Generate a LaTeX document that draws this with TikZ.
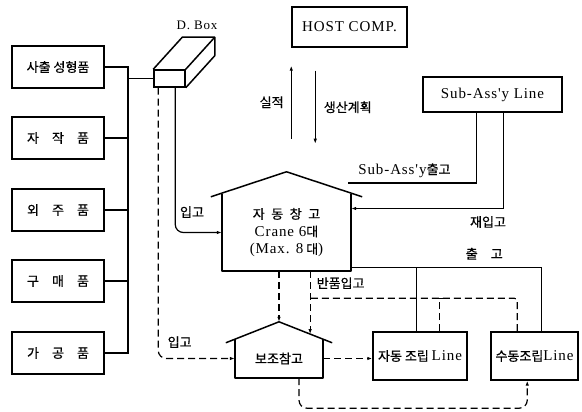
\documentclass[tikz,border=0pt]{standalone}
\usepackage{fontspec}
\setmainfont{Liberation Serif}
\newfontfamily\kr{Noto Sans CJK KR}[FakeBold=0.6]
\newfontfamily\lat{Liberation Serif}[LetterSpace=6]
\newcommand\eng[1]{{\lat\fontsize{15}{17.5}\selectfont #1}}
\usetikzlibrary{arrows.meta,calc}

\begin{document}
\begin{tikzpicture}[
  x=1pt,y=1pt,
  font=\kr\fontsize{13}{16}\selectfont,
  box/.style={draw, line width=1.5pt, align=center, inner sep=2pt},
  lbox/.style={box, minimum width=92pt, minimum height=42pt},
  house/.style={align=center, inner sep=2pt},
  wall/.style={line width=1.5pt, line join=round},
  lab/.style={inner sep=1pt},
  conn/.style={line width=1.2pt},
  arr/.style={conn, -{Latex[length=5pt,width=3.5pt]}},
  dline/.style={conn, dash pattern=on 7pt off 4pt},
  darr/.style={dline, -{Latex[length=5pt,width=3.5pt]}}
]
\useasboundingbox (0,0) rectangle (582,412);

\node[lbox] (sach) at (58,345) {사출 성형품};
\node[lbox] (jajak) at (58,274) {자\quad 작\quad 품};
\node[lbox] (oeju) at (58,202) {외\quad 주\quad 품};
\node[lbox] (gumae) at (58,131) {구\quad 매\quad 품};
\node[lbox] (gagong) at (58,59) {가\quad 공\quad 품};

\node[box, minimum width=31pt, minimum height=17pt, inner sep=0pt] (dbox) at (169.5,333.5) {};
\draw[wall] (dbox.north west) -- ++(29,32) -- ($(dbox.north east)+(29,32)$) -- ($(dbox.south east)+(29,32)$) -- (dbox.south east)
  (dbox.north east) -- ++(29,32);
\node[lab] (dlab) at (197,387) {\lat\fontsize{13}{15}\selectfont D. Box};

\node[box, minimum width=115pt, minimum height=40pt] (host) at (349.5,385) {\eng{HOST COMP.}};
\node[box, minimum width=139pt, minimum height=35pt] (subl) at (492.5,317.5) {\eng{Sub-Ass'y Line}};

\node[house, minimum width=129pt, minimum height=77pt, font=\kr\fontsize{13}{17.5}\selectfont] (awh) at (286.5,179.5)
  {자\enspace 동\enspace 창\enspace 고\\\eng{Crane 6}대\\\eng{(Max. 8} 대\eng{)}};
\draw[wall] (awh.north west) -- (awh.south west) -- (awh.south east) -- (awh.north east);
\draw[wall] ($(awh.north west)+(-11,-3)$) -- ($(awh.north)+(0,22)$) -- ($(awh.north east)+(11,-3)$);

\node[house, minimum width=88pt, minimum height=39pt] (bwh) at (279,53.5) {보조참고};
\draw[wall] (bwh.north west) -- (bwh.south west) -- (bwh.south east) -- (bwh.north east);
\draw[wall] ($(bwh.north west)+(-9,-4)$) -- ($(bwh.north)+(0,17)$) coordinate (bwhtop) -- ($(bwh.north east)+(9,-4)$) coordinate (bwhre);

\node[box, minimum width=94pt, minimum height=48pt] (aline) at (420,56) {자동 조립 \eng{Line}};
\node[box, minimum width=87pt, minimum height=48pt] (mline) at (534.5,56) {수동조립\eng{Line}};

\coordinate (bus) at (128,0);
\draw[conn] (sach.east) -| (bus |- gagong.east) -- (gagong.east);
\foreach \n in {jajak,oeju,gumae} \draw[conn] (\n.east) -- (bus |- \n.east);
\draw[conn] (bus |- dbox.west) -- (dbox.west);

\draw[arr, rounded corners=8pt] ([xshift=22]dbox.south west) |- node[lab, pos=0.68, above=13pt] {입고} (awh.west);
\draw[darr, rounded corners=8pt] ([xshift=5]dbox.south west) |- node[lab, pos=0.64, above=9pt] {입고} (bwh.west);

\draw[arr] ([yshift=-91]host.south west) -- node[lab, left=6pt] {실적} ([yshift=-18]host.south west);
\draw[arr] ([xshift=24,yshift=-23]host.south west) -- node[lab, right=7pt] {생산계획} ([xshift=24,yshift=-96]host.south west);

\coordinate (sout) at (348,229);
\draw[conn] ([xshift=54]subl.south west) |- node[lab, pos=0.78, above=4pt] {\eng{Sub-Ass'y}출고} (sout);
\draw[arr] ([xshift=81]subl.south west) |- node[lab, pos=0.55, below=6pt] {재입고} ([yshift=24]awh.east);

\coordinate (out) at ([yshift=4]awh.south east);
\draw[conn] (out) -| node[lab, pos=0.35, above=6pt] {출\quad 고} ([xshift=51]mline.north west);
\draw[conn] ([xshift=44]aline.north west) -- ([xshift=44]aline.north west |- out);

\draw[darr] (awh.south -| bwhtop) -- (bwhtop);
\coordinate (rin) at ($(bwhtop)!0.585!(bwhre)$);
\draw[darr] (awh.south -| rin) -- node[lab, pos=0.19, right=5pt] {반품입고} (rin);
\draw[dline, rounded corners=3pt] ([xshift=27]mline.north west) |- ([yshift=33]aline.north -| rin);
\draw[dline, -{Bar[width=7pt]}] ([xshift=67]aline.north west) -- ++(0,33);

\draw[darr] (bwh.east) -- (bwh.east -| aline.west);
\draw[darr, rounded corners=8pt] ([xshift=20]bwh.south) -- ++(0,-30) -| ([xshift=37]mline.south west);
\end{tikzpicture}
\end{document}
